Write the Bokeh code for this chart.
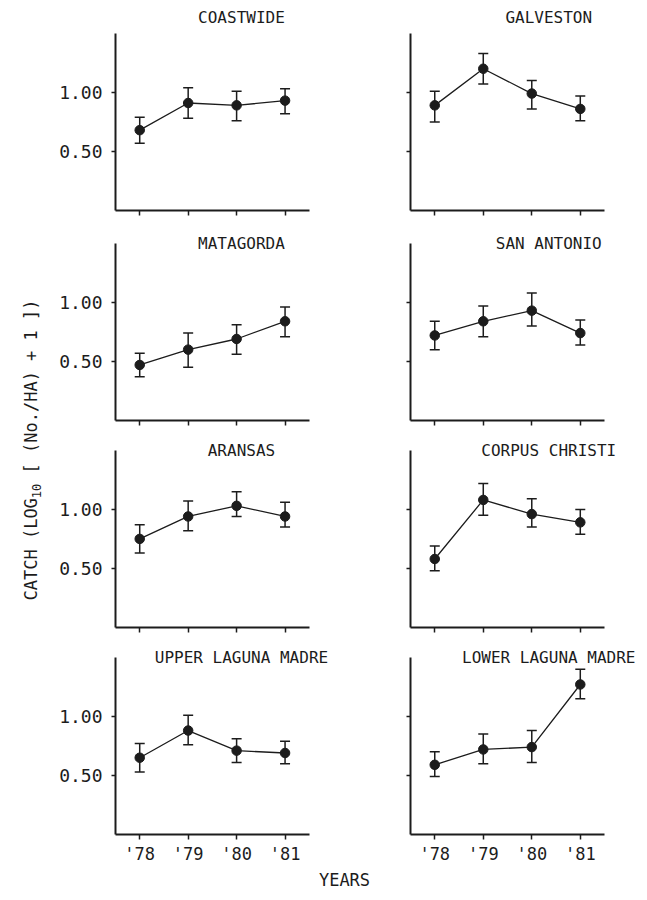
import math
from bokeh.plotting import figure
from bokeh.models import ColumnDataSource, Whisker, TeeHead, Label, Range1d, FixedTicker
from bokeh.layouts import row, column
from bokeh.embed import file_html
from bokeh.resources import INLINE
from bokeh.core.properties import value

# ---------------- data ----------------
years = ["'78", "'79", "'80", "'81"]
ytick_vals = [0.5, 1.0]
ytick_labels = ["0.50", "1.00"]

coastwide_mean = [0.68, 0.91, 0.89, 0.93]
coastwide_upper = [0.79, 1.04, 1.01, 1.03]
coastwide_lower = [0.57, 0.78, 0.76, 0.82]

galveston_mean = [0.89, 1.20, 0.99, 0.86]
galveston_upper = [1.01, 1.33, 1.10, 0.97]
galveston_lower = [0.75, 1.07, 0.86, 0.76]

matagorda_mean = [0.47, 0.60, 0.69, 0.84]
matagorda_upper = [0.57, 0.74, 0.81, 0.96]
matagorda_lower = [0.37, 0.45, 0.56, 0.71]

sanantonio_mean = [0.72, 0.84, 0.93, 0.74]
sanantonio_upper = [0.84, 0.97, 1.08, 0.85]
sanantonio_lower = [0.60, 0.71, 0.80, 0.64]

aransas_mean = [0.75, 0.94, 1.03, 0.94]
aransas_upper = [0.87, 1.07, 1.15, 1.06]
aransas_lower = [0.63, 0.82, 0.94, 0.85]

corpus_mean = [0.58, 1.08, 0.96, 0.89]
corpus_upper = [0.69, 1.22, 1.09, 1.00]
corpus_lower = [0.48, 0.95, 0.85, 0.79]

upperlm_mean = [0.65, 0.88, 0.71, 0.69]
upperlm_upper = [0.77, 1.01, 0.81, 0.79]
upperlm_lower = [0.53, 0.76, 0.61, 0.60]

lowerlm_mean = [0.59, 0.72, 0.74, 1.27]
lowerlm_upper = [0.70, 0.85, 0.88, 1.40]
lowerlm_lower = [0.49, 0.60, 0.61, 1.15]

panel_names = ["COASTWIDE", "GALVESTON", "MATAGORDA", "SAN ANTONIO",
               "ARANSAS", "CORPUS CHRISTI", "UPPER LAGUNA MADRE", "LOWER LAGUNA MADRE"]
panel_means = [coastwide_mean, galveston_mean, matagorda_mean, sanantonio_mean,
               aransas_mean, corpus_mean, upperlm_mean, lowerlm_mean]
panel_uppers = [coastwide_upper, galveston_upper, matagorda_upper, sanantonio_upper,
                aransas_upper, corpus_upper, upperlm_upper, lowerlm_upper]
panel_lowers = [coastwide_lower, galveston_lower, matagorda_lower, sanantonio_lower,
                aransas_lower, corpus_lower, upperlm_lower, lowerlm_lower]

# ---------------- style / layout ----------------
FONT = "DejaVu Sans Mono"
INK = "#1c1c1c"
PX_X = 48.5          # pixels per year step
PX_Y = 118.0         # pixels per unit of catch
X_LO, X_AXIS_HI = -0.5, 3.5
Y_AXIS_HI = 1.5
X_HI = [4.0, 4.2]            # frame extension so titles fit (left / right column)
Y_HI = [1.71, 1.6, 1.6, 1.6]  # frame extension so titles fit (per row)
TOP = [8, 9, 6, 6]
BOTTOM = [12, 12, 12, 34]
LEFT = [63, 37]
RIGHT = [40, 0]

xpos = list(range(len(years)))


def make_panel(idx):
    rowi, col = divmod(idx, 2)
    fw = int(round((X_HI[col] - X_LO) * PX_X))
    fh = int(round(Y_HI[rowi] * PX_Y))
    p = figure(x_range=Range1d(X_LO, X_HI[col]), y_range=Range1d(0, Y_HI[rowi]),
               frame_width=fw, frame_height=fh,
               min_border_left=LEFT[col], min_border_right=RIGHT[col],
               min_border_top=TOP[rowi], min_border_bottom=BOTTOM[rowi],
               output_backend="svg", toolbar_location=None, tools="")
    p.outline_line_color = None
    p.grid.visible = False
    p.background_fill_color = "white"
    p.border_fill_color = "white"

    src = ColumnDataSource(dict(x=xpos, mean=panel_means[idx],
                                upper=panel_uppers[idx], lower=panel_lowers[idx]))
    p.line(x="x", y="mean", source=src, line_width=1.3, line_color=INK)
    wh = Whisker(source=src, base="x", upper="upper", lower="lower",
                 line_width=1.5, line_color=INK,
                 upper_head=TeeHead(size=10, line_width=1.5, line_color=INK),
                 lower_head=TeeHead(size=10, line_width=1.5, line_color=INK))
    p.add_layout(wh)
    p.scatter(x="x", y="mean", source=src, size=9.5, marker="circle",
              fill_color=INK, line_color=INK)

    for ax in (p.xaxis, p.yaxis):
        ax.axis_line_width = 2
        ax.axis_line_color = INK
        ax.major_tick_line_color = INK
        ax.major_tick_line_width = 1.5
        ax.major_tick_in = 0
        ax.minor_tick_in = 0
        ax.minor_tick_out = 0
        ax.major_label_text_font = FONT
        ax.major_label_text_color = INK
    p.xaxis.bounds = (X_LO, X_AXIS_HI)
    p.yaxis.bounds = (0, Y_AXIS_HI)
    p.xaxis.ticker = FixedTicker(ticks=xpos)
    p.yaxis.ticker = FixedTicker(ticks=ytick_vals)
    p.xaxis.major_tick_out = 5
    p.xaxis.major_label_standoff = 4
    p.xaxis.major_label_text_font_size = "17px"
    p.yaxis.major_tick_out = 4
    p.yaxis.major_label_standoff = 9
    p.yaxis.major_label_text_font_size = "18px"

    if rowi < 3:
        p.xaxis.major_label_overrides = {i: "" for i in xpos}
    else:
        p.xaxis.major_label_overrides = dict(zip(xpos, years))
    if col == 1:
        p.yaxis.major_label_overrides = {v: "" for v in ytick_vals}
    else:
        p.yaxis.major_label_overrides = dict(zip(ytick_vals, ytick_labels))

    title_x = 2.1 if col == 0 else 2.35
    title_y = 1.63 if rowi == 0 else 1.5
    p.add_layout(Label(x=title_x, y=title_y, text=panel_names[idx],
                       text_align="center", text_baseline="middle",
                       text_font=FONT, text_font_size="16px", text_color=INK))
    return p


panels = [make_panel(i) for i in range(8)]

grid_w = (LEFT[0] + int(round((X_HI[0] - X_LO) * PX_X)) + RIGHT[0]
          + LEFT[1] + int(round((X_HI[1] - X_LO) * PX_X)) + RIGHT[1])

# ---------------- "YEARS" strip ----------------
YR_H = 24
yrs = figure(x_range=Range1d(0, grid_w), y_range=Range1d(0, YR_H),
             frame_width=grid_w, frame_height=YR_H,
             min_border_left=0, min_border_right=0, min_border_top=0, min_border_bottom=0,
             output_backend="svg", toolbar_location=None, tools="")
yrs.axis.visible = False
yrs.grid.visible = False
yrs.outline_line_color = None
yrs.text(x=[292], y=[YR_H / 2 + 1], text=["YEARS"], text_align="center", text_baseline="middle",
         text_font=value(FONT), text_font_size="17px", text_color=INK)

# ---------------- y-axis title ----------------
LAB_W = 52
LAB_H = 892
ylab = figure(x_range=Range1d(0, LAB_W), y_range=Range1d(0, LAB_H),
              frame_width=LAB_W, frame_height=LAB_H,
              min_border_left=0, min_border_right=0, min_border_top=0, min_border_bottom=0,
              output_backend="svg", toolbar_location=None, tools="")
ylab.axis.visible = False
ylab.grid.visible = False
ylab.outline_line_color = None

main_size = 17
sub_size = 12
adv = 0.602
part1 = "CATCH (LOG"
part2 = "10"
part3 = "[ (No./HA) + 1 ])"
y1 = 292
y2 = y1 + len(part1) * adv * main_size
y3 = y2 + len(part2) * adv * sub_size + adv * main_size
ylab.text(x=[30], y=[y1], text=[part1], angle=math.pi / 2,
          text_align="left", text_baseline="middle",
          text_font=value(FONT), text_font_size="17px", text_color=INK)
ylab.text(x=[36], y=[y2], text=[part2], angle=math.pi / 2,
          text_align="left", text_baseline="middle",
          text_font=value(FONT), text_font_size="12px", text_color=INK)
ylab.text(x=[30], y=[y3], text=[part3], angle=math.pi / 2,
          text_align="left", text_baseline="middle",
          text_font=value(FONT), text_font_size="17px", text_color=INK)

grid = column(row(panels[0], panels[1]), row(panels[2], panels[3]),
              row(panels[4], panels[5]), row(panels[6], panels[7]), yrs)
layout = row(ylab, grid)

open("out.html", "w").write(file_html(layout, INLINE))
